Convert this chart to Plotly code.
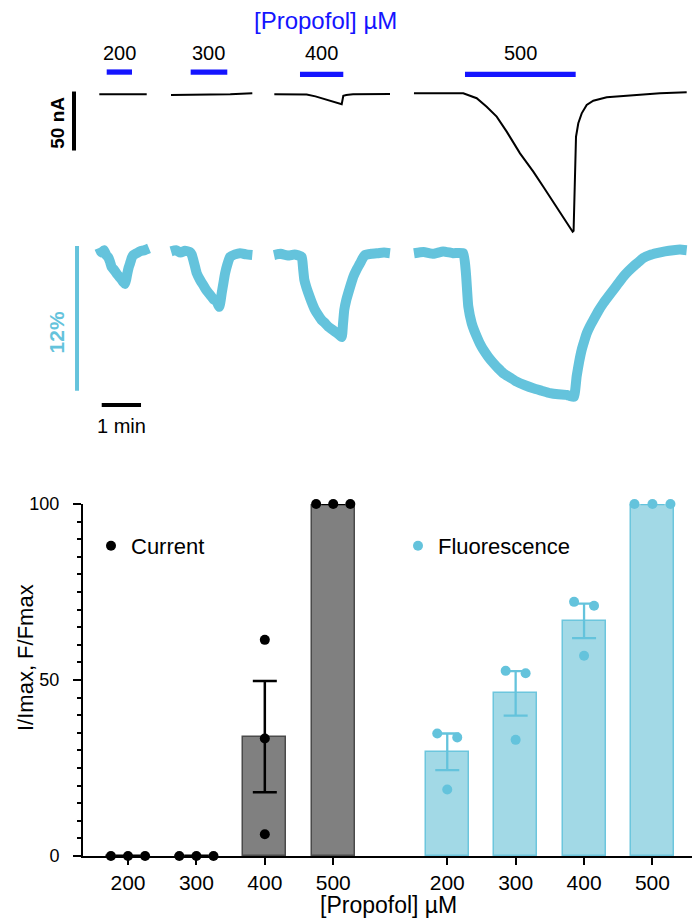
import plotly.graph_objects as go

# ---------------- data ----------------
conc_labels = ["200", "300", "400", "500"]

# bar chart (normalised responses, %)
cur_points = [[0, 0, 0], [0, 0, 0], [61.4, 33.4, 6.2], [100, 100, 100]]
cur_mean = [0, 0, 33.9, 100]
cur_sem = [0, 0, 15.8, 0]
flu_points = [[34.8, 33.7, 18.9], [52.6, 51.9, 33.0], [72.2, 71.1, 56.9], [100, 100, 100]]
flu_mean = [29.6, 46.2, 66.8, 100]
flu_sem = [5.2, 6.3, 4.9, 0]

# current traces: time (s), current (nA)
cur_t = [
    [0, 20, 40, 60, 72.4],
    [109.5, 140, 169, 200, 233.6],
    [267.2, 300, 316.6, 330, 344.6, 358, 370.1, 372.5, 377, 387.3, 410, 443.8],
    [480.4, 520, 555.7, 576.2, 591.4, 606.7, 622.0, 642.3, 662.6, 677.9, 698.3, 722.7, 724.1,
     726.3, 727.8, 731.3, 736.5, 744.1, 754.2, 774.7, 815.3, 856.0, 896.8],
]
cur_i = [
    [-0.2, -0.3, -0.2, -0.3, -0.2],
    [-0.85, -0.7, -0.6, -0.3, 0.6],
    [-0.25, -0.3, -0.5, -2.0, -4.2, -6.4, -8.7, -1.5, -0.8, -0.3, -0.1, 0.0],
    [0.6, 0.5, 0.6, -3.6, -10.8, -19.2, -31.9, -50.3, -65.8, -78.6, -95.5, -116.7, -116.0,
     -55.9, -36.2, -24.8, -16.4, -9.3, -5.7, -2.8, -0.85, 0.6, 1.4],
]

# fluorescence traces: time (s), dF (%)
flu_t = [
    [0, 3.5, 7.2, 10.5, 13.7, 16.3, 18.9, 22.8, 26.6, 30.4, 34.2, 36.7, 39.2, 41.0, 42.7, 44.8,
     46.9, 49.4, 51.9, 57.0, 62.1, 69.0, 75.9],
    [109.5, 117, 124, 131, 138.5, 141.0, 143.5, 146.1, 148.7, 153.7, 158.8, 163.9, 169.0, 174.1,
     179.2, 181.2, 183.2, 185.0, 186.9, 189.4, 191.9, 195.7, 199.6, 207.2, 214.8, 224.2, 233.6],
    [266.7, 277, 288, 298, 309.0, 311.0, 313.0, 316.0, 319.1, 324.2, 329.3, 334.4, 339.5, 344.5,
     349.6, 354.7, 359.8, 365.0, 370.1, 372.0, 374.0, 377.0, 380.1, 384.0, 387.8, 392.9, 398.0,
     401.8, 405.6, 415.7, 425.9, 434.8, 443.8],
    [480.4, 495, 510, 525, 540, 555.7, 559.8, 563.3, 568.5, 572.3, 576.2, 581.2, 586.3, 593.9,
     601.5, 609.1, 616.8, 627.0, 637.2, 649.9, 662.6, 675.4, 688.1, 700.8, 713.6, 719.1, 724.7,
     728.8, 732.6, 736.5, 740.3, 744.1, 749.1, 754.2, 761.8, 769.5, 777.1, 784.7, 792.3, 800.0,
     807.6, 815.3, 822.9, 830.5, 840.8, 851.0, 863.6, 876.3, 886.5, 896.8],
]
flu_f = [
    [0.35, -0.05, 0.15, -0.25, -0.45, -0.8, -1.25, -1.5, -1.8, -2.05, -2.3, -2.5, -2.65, -2.3,
     -1.8, -1.3, -0.95, -0.5, -0.25, -0.1, 0.05, 0.15, 0.3],
    [0.05, 0.15, -0.05, 0.1, 0.0, -0.2, -0.65, -1.2, -1.75, -2.3, -2.75, -3.2, -3.55, -3.9,
     -4.1, -4.35, -4.55, -4.1, -3.4, -2.6, -1.8, -1.0, -0.4, -0.2, -0.1, -0.2, -0.25],
    [-0.25, -0.15, -0.3, -0.2, -0.4, -1.3, -2.3, -2.9, -3.4, -4.15, -4.8, -5.25, -5.65, -5.9,
     -6.2, -6.4, -6.6, -6.8, -7.05, -6.0, -4.8, -4.0, -3.4, -2.7, -2.05, -1.45, -0.95, -0.55,
     -0.25, -0.15, -0.1, -0.05, -0.1],
    [-0.1, 0.0, -0.15, 0.05, -0.1, -0.1, -1.8, -4.5, -5.9, -6.5, -7.0, -7.6, -8.1, -8.7, -9.2,
     -9.65, -10.05, -10.4, -10.75, -11.05, -11.3, -11.5, -11.7, -11.8, -11.85, -11.95, -12.0,
     -10.3, -9.1, -8.1, -7.4, -6.75, -6.15, -5.65, -4.9, -4.25, -3.7, -3.15, -2.6, -2.05, -1.6,
     -1.2, -0.85, -0.5, -0.25, -0.1, 0.05, 0.15, 0.2, 0.15],
]

# propofol applications (s)
stim_on = [11.3, 139.5, 306.4, 558.3]
stim_off = [49.9, 195.4, 372.5, 727.3]

# scale bars
scale_nA = 50
scale_pct = 12
scale_s = 60

# ---------------- styles / layout constants ----------------
FONT = "Liberation Sans, Arial, sans-serif"
BLUE = "#1414ff"
CYAN = "#64c3dc"
CYAN_FILL = "#a2d9e6"
CYAN_LINE = "#6cc6dd"
GREY = "#808080"
W, H = 692, 918

cur_x = [0, 1, 2, 3]
flu_x = [4.667, 5.667, 6.667, 7.667]
cur_jit = [[-0.25, 0, 0.25], [-0.25, 0, 0.25], [0, 0, 0], [-0.25, 0, 0.25]]
flu_jit = [[-0.146, 0.146, 0], [-0.146, 0.146, 0], [-0.146, 0.146, 0], [-0.263, 0, 0.263]]
stim_level = [18.6, 18.6, 16.7, 16.7]
label_level = 35.0

fig = go.Figure()

# ---- bars ----
fig.add_trace(go.Bar(x=cur_x, y=cur_mean, width=0.63, marker=dict(color=GREY, line=dict(color="#4a4a4a", width=1.5)),
                     error_y=dict(type="data", array=cur_sem, color="black", thickness=2.5, width=12),
                     showlegend=False, xaxis="x", yaxis="y"))
fig.add_trace(go.Bar(x=flu_x, y=flu_mean, width=0.63, marker=dict(color=CYAN_FILL, line=dict(color=CYAN_LINE, width=1.5)),
                     error_y=dict(type="data", array=flu_sem, color=CYAN, thickness=2.3, width=12),
                     showlegend=False, xaxis="x", yaxis="y"))

# ---- dots ----
cx, cy = [], []
for xc, jit, pts in zip(cur_x, cur_jit, cur_points):
    for j, p in zip(jit, pts):
        cx.append(xc + j)
        cy.append(p)
fig.add_trace(go.Scatter(x=cx, y=cy, mode="markers", marker=dict(color="black", size=10),
                         name="Current", cliponaxis=False, legend="legend", xaxis="x", yaxis="y"))
fx, fy = [], []
for xc, jit, pts in zip(flu_x, flu_jit, flu_points):
    for j, p in zip(jit, pts):
        fx.append(xc + j)
        fy.append(p)
fig.add_trace(go.Scatter(x=fx, y=fy, mode="markers", marker=dict(color=CYAN, size=10),
                         name="Fluorescence", cliponaxis=False, legend="legend2", xaxis="x", yaxis="y"))

# ---- traces ----
def join(segs):
    out = []
    for s in segs:
        out += list(s) + [None]
    return out

fig.add_trace(go.Scatter(x=join(flu_t), y=join(flu_f), mode="lines",
                         line=dict(color=CYAN, width=10, shape="spline", smoothing=0.4),
                         showlegend=False, xaxis="x2", yaxis="y3", cliponaxis=False))
fig.add_trace(go.Scatter(x=join(cur_t), y=join(cur_i), mode="lines", line=dict(color="black", width=2),
                         showlegend=False, xaxis="x2", yaxis="y2", cliponaxis=False))

# stimulus bars
sx, sy = [], []
for a, b, lv in zip(stim_on, stim_off, stim_level):
    sx += [a, b, None]
    sy += [lv, lv, None]
fig.add_trace(go.Scatter(x=sx, y=sy, mode="lines", line=dict(color=BLUE, width=5.3),
                         showlegend=False, xaxis="x2", yaxis="y2", cliponaxis=False))

# scale bars
cur_bar_t, cur_bar_top = -38.6, 2.1
fig.add_trace(go.Scatter(x=[cur_bar_t, cur_bar_t], y=[cur_bar_top, cur_bar_top - scale_nA], mode="lines",
                         line=dict(color="black", width=4), showlegend=False, xaxis="x2", yaxis="y2"))
flu_bar_t, flu_bar_top = -34.0, 0.5
fig.add_trace(go.Scatter(x=[flu_bar_t, flu_bar_t], y=[flu_bar_top, flu_bar_top - scale_pct], mode="lines",
                         line=dict(color=CYAN, width=4), showlegend=False, xaxis="x2", yaxis="y3"))
time_bar_t0, time_bar_f = 3.7, -12.69
fig.add_trace(go.Scatter(x=[time_bar_t0, time_bar_t0 + scale_s], y=[time_bar_f, time_bar_f], mode="lines",
                         line=dict(color="black", width=4), showlegend=False, xaxis="x2", yaxis="y3"))

ann = []
for a, b, lab in zip(stim_on, stim_off, conc_labels):
    ann.append(dict(x=(a + b) / 2, y=label_level, xref="x2", yref="y2", text=lab, showarrow=False,
                    font=dict(family=FONT, size=20, color="black"), xanchor="center", yanchor="middle"))
ann.append(dict(x=346, y=61.9, xref="x2", yref="y2", text="[Propofol] µM", showarrow=False,
                font=dict(family=FONT, size=24, color=BLUE), xanchor="center", yanchor="middle"))
ann.append(dict(x=-65.0, y=-24.6, xref="x2", yref="y2", text="<b>%d nA</b>" % scale_nA, showarrow=False,
                textangle=-90, font=dict(family=FONT, size=19, color="black"), xanchor="center", yanchor="middle"))
ann.append(dict(x=-66.1, y=-6.67, xref="x2", yref="y3", text="<b>%d%%</b>" % scale_pct, showarrow=False,
                textangle=-90, font=dict(family=FONT, size=21, color=CYAN), xanchor="center", yanchor="middle"))
ann.append(dict(x=time_bar_t0 + scale_s / 2, y=-14.43, xref="x2", yref="y3", text="%d min" % (scale_s // 60),
                showarrow=False, font=dict(family=FONT, size=20, color="black"), xanchor="center", yanchor="middle"))
ann.append(dict(x=25 / W, y=1 - 658 / H, xref="paper", yref="paper", text="I/Imax, F/Fmax", showarrow=False,
                textangle=-90, font=dict(family=FONT, size=22, color="black"), xanchor="center", yanchor="middle"))
ann.append(dict(x=388 / W, y=1 - 905 / H, xref="paper", yref="paper", text="[Propofol] µM", showarrow=False,
                font=dict(family=FONT, size=23, color="black"), xanchor="center", yanchor="middle"))

fig.update_layout(
    template="none", autosize=False,
    width=W, height=H, margin=dict(l=0, r=0, t=0, b=0, pad=0, autoexpand=False),
    paper_bgcolor="white", plot_bgcolor="rgba(0,0,0,0)",
    font=dict(family=FONT, color="black"),
    bargap=0, barmode="overlay",
    annotations=ann,
    xaxis=dict(domain=[83 / W, 1.0], range=[-0.658, 8.245], anchor="y", automargin=False,
               tickvals=cur_x + flu_x, ticktext=conc_labels + conc_labels,
               showline=True, linecolor="black", linewidth=2, ticks="outside", ticklen=7, tickwidth=2,
               tickcolor="black", showgrid=False, zeroline=False, tickfont=dict(family=FONT, size=21)),
    yaxis=dict(domain=[62 / H, 414 / H], range=[0, 100], anchor="x", automargin=False,
               tickvals=[0, 50, 100], showline=True, linecolor="black", linewidth=2, ticks="outside",
               ticklen=8, tickwidth=2, tickcolor="black", showgrid=False, zeroline=False,
               minor=dict(dtick=5, ticks="outside", ticklen=4, tickwidth=2, tickcolor="black", showgrid=False),
               tickfont=dict(family=FONT, size=18), ticklabelstandoff=10),
    xaxis2=dict(domain=[0, 1], range=[-99.3 / 0.655, (W - 99.3) / 0.655], anchor="y2", visible=False,
                automargin=False),
    yaxis2=dict(domain=[0, 1], range=[(94 - H) / 1.18, 94 / 1.18], anchor="x2", visible=False, automargin=False),
    yaxis3=dict(range=[(252 - H) / 12.06, 252 / 12.06], overlaying="y2", anchor="x2", visible=False,
                automargin=False),
    legend=dict(x=91 / W, y=1 - 546 / H, xanchor="left", yanchor="middle", bgcolor="rgba(0,0,0,0)",
                font=dict(family=FONT, size=22), borderwidth=0),
    legend2=dict(x=398 / W, y=1 - 546 / H, xanchor="left", yanchor="middle", bgcolor="rgba(0,0,0,0)",
                 font=dict(family=FONT, size=22), borderwidth=0),
)

fig.write_html("out.html", config={"displayModeBar": False},
               post_script="document.body.style.margin='0';document.body.style.overflow='hidden';")
